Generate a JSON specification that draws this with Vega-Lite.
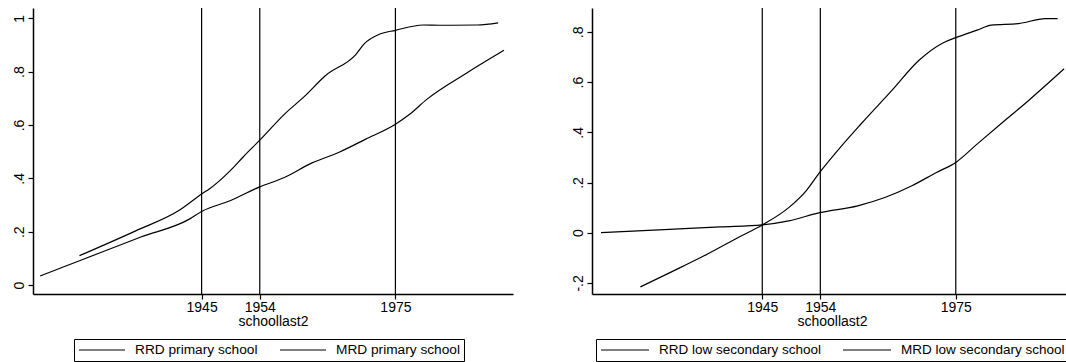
{
  "$schema": "https://vega.github.io/schema/vega-lite/v6.json",
  "background": "white",
  "padding": {"left": 12, "top": 7, "right": 0, "bottom": 1},
  "autosize": {"type": "pad"},
  "spacing": 57,
  "config": {
    "view": {"stroke": null},
    "font": "Liberation Sans",
    "axis": {
      "grid": false,
      "domainColor": "black",
      "domainWidth": 1.5,
      "tickColor": "black",
      "tickWidth": 1.2,
      "tickSize": 5,
      "labelColor": "black",
      "labelFont": "Liberation Sans",
      "labelFontSize": 14,
      "titleFont": "Liberation Sans",
      "titleFontSize": 14,
      "titleFontWeight": "normal",
      "titleColor": "black"
    },
    "legend": {
      "labelFont": "Liberation Sans",
      "labelColor": "black",
      "labelFontSize": 13.7,
      "labelLimit": 400
    }
  },
  "datasets": {
    "primary": [
      {"series": "RRD primary school", "year": 1926.1, "value": 0.110},
      {"series": "RRD primary school", "year": 1934.8, "value": 0.203},
      {"series": "RRD primary school", "year": 1941.6, "value": 0.281},
      {"series": "RRD primary school", "year": 1945.0, "value": 0.341},
      {"series": "RRD primary school", "year": 1946.3, "value": 0.362},
      {"series": "RRD primary school", "year": 1949.4, "value": 0.428},
      {"series": "RRD primary school", "year": 1951.5, "value": 0.482},
      {"series": "RRD primary school", "year": 1954.0, "value": 0.543},
      {"series": "RRD primary school", "year": 1957.8, "value": 0.640},
      {"series": "RRD primary school", "year": 1961.0, "value": 0.709},
      {"series": "RRD primary school", "year": 1964.1, "value": 0.784},
      {"series": "RRD primary school", "year": 1968.9, "value": 0.865},
      {"series": "RRD primary school", "year": 1970.2, "value": 0.905},
      {"series": "RRD primary school", "year": 1972.5, "value": 0.940},
      {"series": "RRD primary school", "year": 1975.0, "value": 0.955},
      {"series": "RRD primary school", "year": 1979.3, "value": 0.975},
      {"series": "RRD primary school", "year": 1981.9, "value": 0.974},
      {"series": "RRD primary school", "year": 1987.7, "value": 0.975},
      {"series": "RRD primary school", "year": 1990.9, "value": 0.983},
      {"series": "MRD primary school", "year": 1920.0, "value": 0.034},
      {"series": "MRD primary school", "year": 1926.2, "value": 0.092},
      {"series": "MRD primary school", "year": 1935.6, "value": 0.180},
      {"series": "MRD primary school", "year": 1943.1, "value": 0.247},
      {"series": "MRD primary school", "year": 1945.0, "value": 0.276},
      {"series": "MRD primary school", "year": 1949.4, "value": 0.316},
      {"series": "MRD primary school", "year": 1954.0, "value": 0.368},
      {"series": "MRD primary school", "year": 1957.8, "value": 0.403},
      {"series": "MRD primary school", "year": 1962.0, "value": 0.457},
      {"series": "MRD primary school", "year": 1966.2, "value": 0.497},
      {"series": "MRD primary school", "year": 1970.4, "value": 0.547},
      {"series": "MRD primary school", "year": 1975.0, "value": 0.603},
      {"series": "MRD primary school", "year": 1977.2, "value": 0.640},
      {"series": "MRD primary school", "year": 1979.9, "value": 0.697},
      {"series": "MRD primary school", "year": 1986.1, "value": 0.796},
      {"series": "MRD primary school", "year": 1991.8, "value": 0.880}
    ],
    "lowsec": [
      {"series": "RRD low secondary school", "year": 1926.1, "value": -0.216},
      {"series": "RRD low secondary school", "year": 1930.6, "value": -0.160},
      {"series": "RRD low secondary school", "year": 1935.9, "value": -0.093},
      {"series": "RRD low secondary school", "year": 1941.2, "value": -0.020},
      {"series": "RRD low secondary school", "year": 1945.0, "value": 0.031},
      {"series": "RRD low secondary school", "year": 1949.1, "value": 0.100},
      {"series": "RRD low secondary school", "year": 1951.8, "value": 0.167},
      {"series": "RRD low secondary school", "year": 1953.9, "value": 0.240},
      {"series": "RRD low secondary school", "year": 1957.1, "value": 0.340},
      {"series": "RRD low secondary school", "year": 1960.3, "value": 0.433},
      {"series": "RRD low secondary school", "year": 1965.1, "value": 0.567},
      {"series": "RRD low secondary school", "year": 1969.3, "value": 0.687},
      {"series": "RRD low secondary school", "year": 1973.0, "value": 0.756},
      {"series": "RRD low secondary school", "year": 1975.0, "value": 0.777},
      {"series": "RRD low secondary school", "year": 1978.3, "value": 0.807},
      {"series": "RRD low secondary school", "year": 1980.5, "value": 0.827},
      {"series": "RRD low secondary school", "year": 1984.7, "value": 0.833},
      {"series": "RRD low secondary school", "year": 1988.9, "value": 0.853},
      {"series": "RRD low secondary school", "year": 1990.8, "value": 0.853},
      {"series": "MRD low secondary school", "year": 1920.0, "value": 0.000},
      {"series": "MRD low secondary school", "year": 1930.6, "value": 0.013},
      {"series": "MRD low secondary school", "year": 1938.5, "value": 0.023},
      {"series": "MRD low secondary school", "year": 1945.0, "value": 0.031},
      {"series": "MRD low secondary school", "year": 1949.1, "value": 0.047},
      {"series": "MRD low secondary school", "year": 1953.9, "value": 0.080},
      {"series": "MRD low secondary school", "year": 1959.8, "value": 0.107},
      {"series": "MRD low secondary school", "year": 1964.0, "value": 0.140},
      {"series": "MRD low secondary school", "year": 1968.2, "value": 0.187},
      {"series": "MRD low secondary school", "year": 1972.0, "value": 0.240},
      {"series": "MRD low secondary school", "year": 1975.0, "value": 0.280},
      {"series": "MRD low secondary school", "year": 1978.3, "value": 0.353},
      {"series": "MRD low secondary school", "year": 1982.6, "value": 0.447},
      {"series": "MRD low secondary school", "year": 1986.3, "value": 0.527},
      {"series": "MRD low secondary school", "year": 1991.8, "value": 0.653}
    ],
    "cuts": [
      {"year": 1945},
      {"year": 1954},
      {"year": 1975}
    ]
  },
  "hconcat": [
    {
      "width": 480,
      "height": 286,
      "encoding": {
        "x": {
          "field": "year",
          "type": "quantitative",
          "scale": {"domain": [1918.9, 1993.2], "nice": false, "zero": false},
          "axis": {
            "values": [1945, 1954, 1975],
            "format": "d",
            "title": "schoollast2",
            "titlePadding": 0,
            "labelPadding": 1,
            "labelFlush": false,
            "labelOverlap": false
          }
        }
      },
      "layer": [
        {
          "data": {"name": "cuts"},
          "mark": {"type": "rule", "color": "black", "strokeWidth": 1.2}
        },
        {
          "data": {"name": "primary"},
          "mark": {"type": "line", "strokeWidth": 1.2, "interpolate": "monotone"},
          "encoding": {
            "y": {
              "field": "value",
              "type": "quantitative",
              "scale": {"domain": [-0.0337, 1.0387], "nice": false, "zero": false},
              "axis": {
                "values": [0, 0.2, 0.4, 0.6, 0.8, 1],
                "title": null,
                "labelAngle": -90,
                "labelAlign": "center",
                "labelBaseline": "bottom",
                "labelPadding": 2,
                "minExtent": 21,
                "maxExtent": 21,
                "labelExpr": "datum.value == 0 ? '0' : datum.value == 1 ? '1' : (datum.value < 0 ? '-' : '') + '.' + round(abs(datum.value) * 10)"
              }
            },
            "color": {
              "field": "series",
              "type": "nominal",
              "scale": {"domain": ["RRD primary school", "MRD primary school"], "range": ["black", "black"]},
              "legend": {
                "orient": "none",
                "legendX": 41,
                "legendY": 331,
                "direction": "horizontal",
                "title": null,
                "strokeColor": "black",
                "padding": 4,
                "symbolType": "stroke",
                "symbolSize": 2116,
                "symbolStrokeWidth": 1.2,
                "symbolStrokeColor": "black",
                "labelOffset": 9,
                "columnPadding": 21,
                "clipHeight": 14
              }
            }
          }
        }
      ]
    },
    {
      "width": 476,
      "height": 286,
      "encoding": {
        "x": {
          "field": "year",
          "type": "quantitative",
          "scale": {"domain": [1918.6, 1992.4], "nice": false, "zero": false},
          "axis": {
            "values": [1945, 1954, 1975],
            "format": "d",
            "title": "schoollast2",
            "titleX": 240,
            "titlePadding": 0,
            "labelPadding": 1,
            "labelFlush": false,
            "labelOverlap": false
          }
        }
      },
      "layer": [
        {
          "data": {"name": "cuts"},
          "mark": {"type": "rule", "color": "black", "strokeWidth": 1.2}
        },
        {
          "data": {"name": "lowsec"},
          "mark": {"type": "line", "strokeWidth": 1.2, "interpolate": "monotone"},
          "encoding": {
            "y": {
              "field": "value",
              "type": "quantitative",
              "scale": {"domain": [-0.2442, 0.8952], "nice": false, "zero": false},
              "axis": {
                "values": [-0.2, 0, 0.2, 0.4, 0.6, 0.8],
                "title": null,
                "labelAngle": -90,
                "labelAlign": "center",
                "labelBaseline": "bottom",
                "labelPadding": 2,
                "minExtent": 21,
                "maxExtent": 21,
                "labelExpr": "datum.value == 0 ? '0' : datum.value == 1 ? '1' : (datum.value < 0 ? '-' : '') + '.' + round(abs(datum.value) * 10)"
              }
            },
            "color": {
              "field": "series",
              "type": "nominal",
              "scale": {"domain": ["RRD low secondary school", "MRD low secondary school"], "range": ["black", "black"]},
              "legend": {
                "orient": "none",
                "legendX": 4,
                "legendY": 331,
                "direction": "horizontal",
                "title": null,
                "strokeColor": "black",
                "padding": 4,
                "symbolType": "stroke",
                "symbolSize": 2304,
                "symbolStrokeWidth": 1.2,
                "symbolStrokeColor": "black",
                "labelOffset": 9,
                "labelFontSize": 13.5,
                "columnPadding": 20,
                "clipHeight": 14
              }
            }
          }
        }
      ]
    }
  ],
  "resolve": {
    "scale": {"color": "independent", "x": "independent", "y": "independent"},
    "legend": {"color": "independent"}
  }
}
